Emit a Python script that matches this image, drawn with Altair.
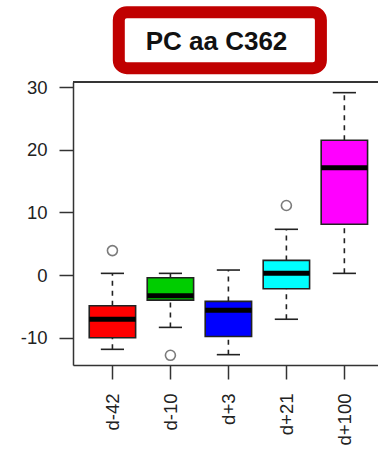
import altair as alt
import pandas as pd

# ---- data ----
title_text = "PC aa C362"
categories = ["d-42", "d-10", "d+3", "d+21", "d+100"]
positions = [1, 2, 3, 4, 5]
box_colors = ["#ff0000", "#00cd00", "#0000ff", "#00ffff", "#ff00ff"]
whisker_low = [-11.85, -8.35, -12.7, -7.05, 0.27]
q1_values = [-10.0, -4.0, -9.8, -2.18, 8.1]
median_values = [-7.05, -3.3, -5.6, 0.27, 17.1]
q3_values = [-4.9, -0.43, -4.2, 2.34, 21.5]
whisker_high = [0.27, 0.27, 0.8, 7.3, 29.1]
outlier_pos = [1, 2, 4]
outlier_values = [3.9, -12.8, 11.1]
y_ticks = [-10, 0, 10, 20, 30]

W, H = 305, 283
FONT = "Liberation Sans"
LINE = "#333333"

boxes = pd.DataFrame({
    "cat": categories, "pos": positions, "color": box_colors,
    "lo": whisker_low, "q1": q1_values, "med": median_values,
    "q3": q3_values, "hi": whisker_high,
})
outs = pd.DataFrame({"pos": outlier_pos, "val": outlier_values})

xscale = alt.Scale(domain=[0.32, 5.58], nice=False, zero=False)
yscale = alt.Scale(domain=[-14.35, 30.8], nice=False, zero=False)

label_expr = "[" + ",".join("'%s'" % c for c in categories) + "][datum.value - 1]"

x_axis = alt.Axis(values=positions, labelExpr=label_expr, labelAngle=270,
                  tickSize=14, tickWidth=1.5, tickColor=LINE,
                  domainColor=LINE, domainWidth=1.5, labelPadding=14,
                  labelFontSize=18.5, labelFont=FONT, labelColor="#222222",
                  grid=False, title=None)
y_axis = alt.Axis(values=y_ticks, labelExpr="toString(datum.value)",
                  tickSize=14, tickWidth=1.5, tickColor=LINE,
                  domainColor=LINE, domainWidth=1.5, labelPadding=12,
                  labelFontSize=18.5, labelFont=FONT, labelColor="#222222",
                  grid=False, title=None)

base = alt.Chart(boxes).transform_calculate(
    l="datum.pos - 0.4", r="datum.pos + 0.4",
    cl="datum.pos - 0.2", cr="datum.pos + 0.2",
)

def X(field):
    return alt.X(field, type="quantitative", scale=xscale, axis=x_axis)

def Y(field):
    return alt.Y(field, type="quantitative", scale=yscale, axis=y_axis)

whisk_lo = base.mark_rule(color="#222222", strokeWidth=1.6, strokeDash=[5, 5]).encode(
    x=X("pos"), y=Y("lo"), y2="q1")
whisk_hi = base.mark_rule(color="#222222", strokeWidth=1.6, strokeDash=[5, 5]).encode(
    x=X("pos"), y=Y("q3"), y2="hi")
cap_lo = base.mark_rule(color="#222222", strokeWidth=1.6).encode(
    x=X("cl"), x2="cr", y=Y("lo"))
cap_hi = base.mark_rule(color="#222222", strokeWidth=1.6).encode(
    x=X("cl"), x2="cr", y=Y("hi"))
box = base.mark_rect(stroke="#222222", strokeWidth=1.6).encode(
    x=X("l"), x2="r", y=Y("q1"), y2="q3",
    fill=alt.Color("color:N", scale=None))
med = base.mark_rule(color="#000000", strokeWidth=5).encode(
    x=X("l"), x2="r", y=Y("med"))
outliers = alt.Chart(outs).mark_point(shape="circle", filled=False, size=100,
                                      stroke="#444444", strokeWidth=1.6).encode(
    x=X("pos"), y=Y("val"))

top_line = alt.Chart(outs).mark_rule(color=LINE, strokeWidth=1.5).encode(
    x=alt.value(0), x2=alt.value(W), y=alt.value(0))

title_box = alt.Chart(pd.DataFrame({"t": [title_text]})).mark_rect(
    fill="white", stroke="#c00000", strokeWidth=12, cornerRadius=8).encode(
    x=alt.value(45.8), x2=alt.value(247.9), y=alt.value(-69.8), y2=alt.value(-13.8))
title = alt.Chart(pd.DataFrame({"t": [title_text]})).mark_text(
    font=FONT, fontSize=26, fontWeight="bold", color="#111111",
    align="center", baseline="alphabetic").encode(
    x=alt.value(143.5), y=alt.value(-32), text="t:N")

chart = alt.layer(whisk_lo, whisk_hi, cap_lo, cap_hi, box, med, outliers,
                  top_line, title_box, title).properties(
    width=W, height=H,
    autosize=alt.AutoSizeParams(type="none"),
    padding={"left": 73, "top": 82, "right": 0, "bottom": 95},
).configure_view(stroke=None).configure(background="white")

chart.save("out.html", embed_options={"renderer": "svg", "actions": False})
